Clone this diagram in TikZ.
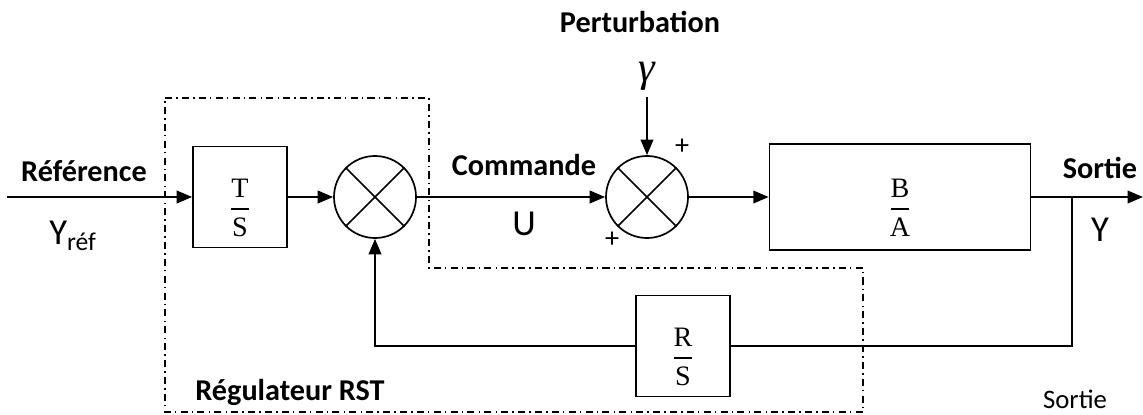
\documentclass[tikz,border=0pt]{standalone}
\usepackage{fontspec}
\setmainfont{Carlito}
\newfontfamily\fracfont{Liberation Serif}
\usetikzlibrary{arrows.meta}
\newcommand{\fracbloc}[2]{{\fracfont\begin{tabular}{@{}c@{}}\rule{0pt}{36pt}#1\\[-15.5pt]\rule{0.62em}{1.4pt}\\[-5pt]#2\end{tabular}}}
\tikzset{
    bloc/.style={draw, line width=1.2pt, minimum width=2.35cm, minimum height=2.52cm, inner sep=0pt, font=\fontsize{20}{24}\selectfont},
    somme/.style={draw, circle, line width=1.2pt, minimum size=2.05cm, inner sep=0pt},
    signal/.style={-{Triangle[length=11pt, width=9pt]}, line width=1.2pt},
    liaison/.style={line width=1.2pt},
    cadre/.style={line width=1pt, dash pattern=on 5pt off 3pt on 1pt off 3pt},
    titre/.style={font=\fontsize{21.5}{25}\selectfont\bfseries},
    etiq/.style={font=\fontsize{26}{30}\selectfont},
    signe/.style={font=\fontsize{20}{24}\selectfont}
}

\begin{document}
\begin{tikzpicture}[x=0.025cm, y=-0.025cm]
    \useasboundingbox (0,0) rectangle (1143,414);
    % cadre du régulateur RST
    \draw[cadre] (165,98) -- (429,98) -- (429,268) -- (863,268) -- (863,412) -- (165,412) -- cycle;

    \coordinate (E) at (7,197);
    \node[bloc] (T) at (240,197) {\fracbloc{T}{S}};
    \node[somme] (S1) at (375,197) {};
    \node[somme] (S2) at (647,197) {};
    \node[bloc, minimum width=6.52cm, minimum height=2.65cm] (G) at (900,197) {\fracbloc{B}{A}};
    \node[bloc] (R) at (683,346) {\fracbloc{R}{S}};
    \node[font=\fontsize{30}{34}\selectfont\fracfont\itshape, inner sep=0pt, outer sep=5pt] (gam) at (647,76) {γ};
    \coordinate (N) at (1072,197);
    \coordinate (Fin) at (1143,197);
    \coordinate (Nb) at (1072,346);
    \coordinate (Rg) at (375,346);
    \foreach \s in {S1,S2} {
        \draw[liaison] (\s.north west) -- (\s.south east);
        \draw[liaison] (\s.north east) -- (\s.south west);
    }

    \draw[signal] (E) -- (T);
    \draw[signal] (T) -- (S1);
    \draw[signal] (S1) -- (S2);
    \draw[signal] (S2) -- (G);
    \draw[signal] (G) -- (Fin);
    \draw[signal] (gam) -- (S2);
    % retour par R/S
    \draw[liaison] (N) -- (Nb) -- (R);
    \draw[signal] (R) -- (Rg) -- (S1);

    \node[titre] (lref) at (84,171) {Référence};
    \node[etiq] (lyref) at (73,236) {Y\textsubscript{réf}};
    \node[titre] (lcmd) at (524,165) {Commande};
    \node[etiq] (lu) at (524,224) {U};
    \node[titre] (lpert) at (640,22) {Perturbation};
    \node[signe] (p1) at (682,147) {+};
    \node[signe] (p2) at (612,240) {+};
    \node[titre] (lsort) at (1100,168) {Sortie};
    \node[etiq] (ly) at (1100,230) {Y};
    \node[font=\fontsize{19}{22}\selectfont] (lsort2) at (1075,399) {Sortie};
    \node[titre] (lrst) at (290,392) {Régulateur RST};
\end{tikzpicture}
\end{document}
